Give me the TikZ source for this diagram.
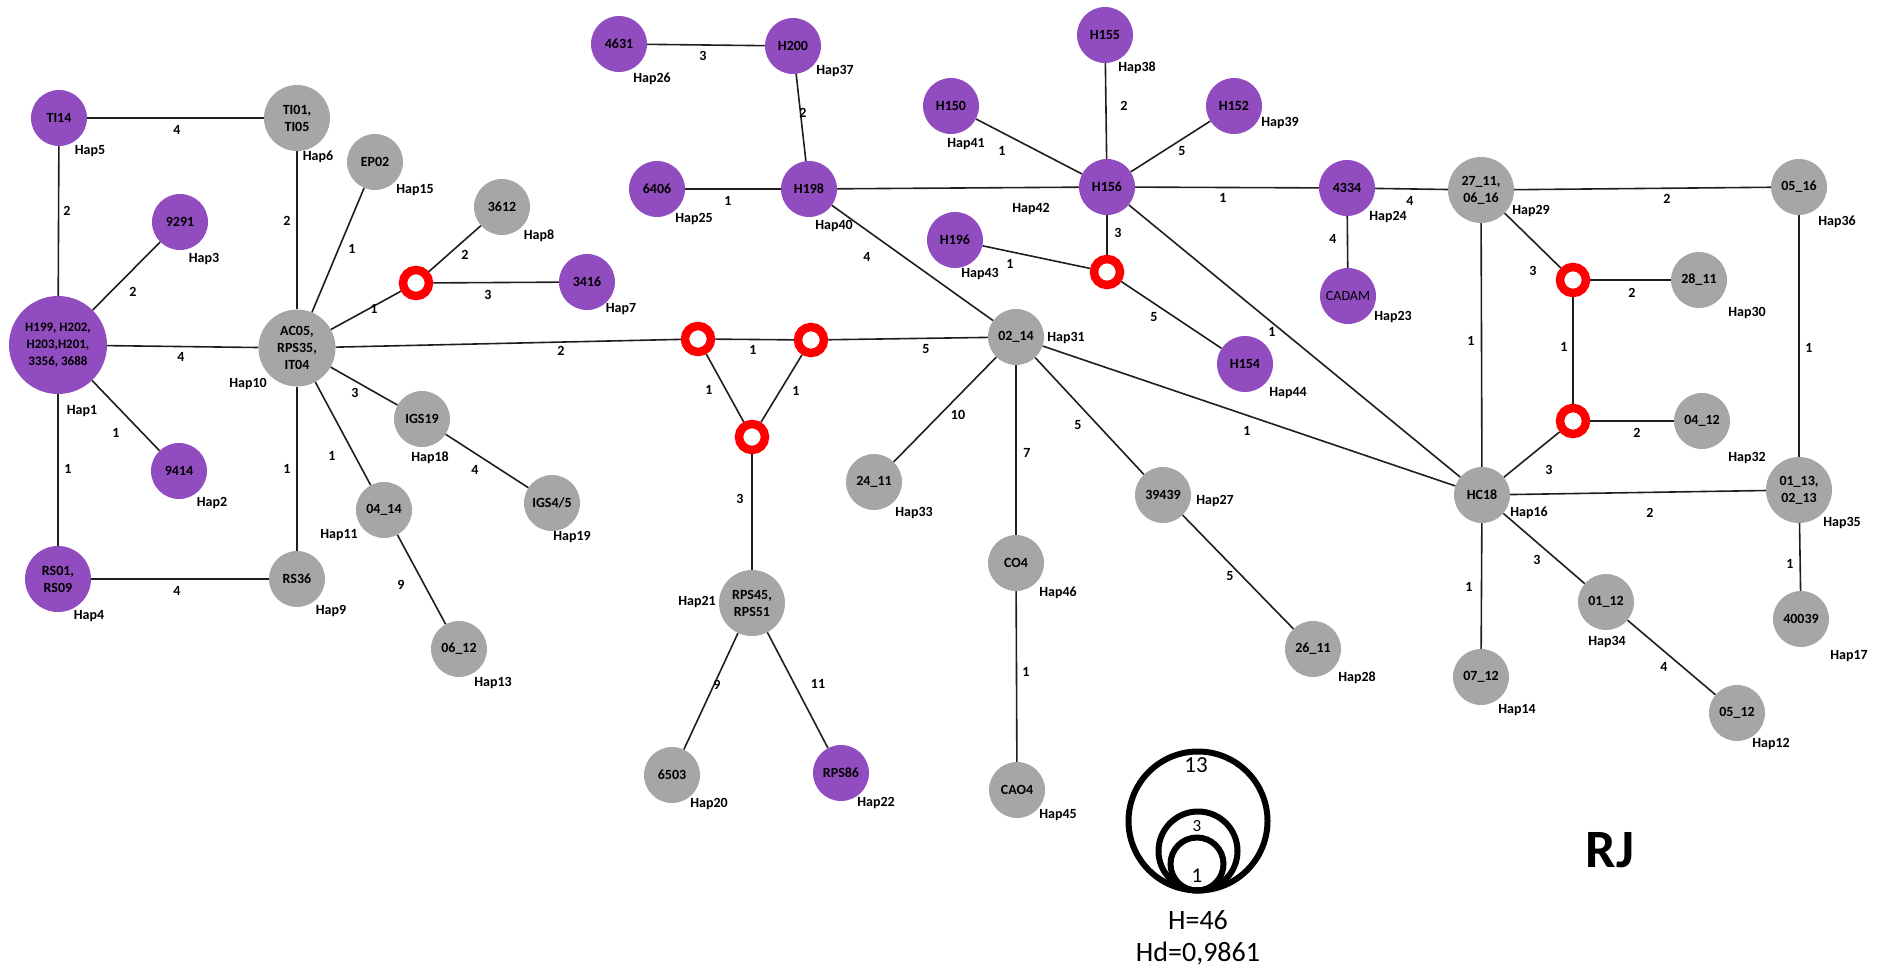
\documentclass[tikz,border=0pt]{standalone}
\usepackage{fontspec}
\setmainfont{Carlito}
\definecolor{hpurple}{RGB}{145,76,191}
\definecolor{hgrey}{RGB}{166,166,166}
\definecolor{hline}{RGB}{30,30,30}
\tikzset{
  hbase/.style={circle, minimum size=56pt, inner sep=0pt, align=center,
    font=\fontsize{14}{17}\selectfont\bfseries},
  hp/.style={hbase, fill=hpurple},
  hg/.style={hbase, fill=hgrey},
  twoline/.style={minimum size=66pt},
  mv/.style={circle, draw=red, line width=8.5pt, minimum size=26pt, inner sep=0pt},
  hl/.style={inner sep=0pt, font=\fontsize{14}{17}\selectfont\bfseries},
  el/.style={inner sep=0pt, font=\fontsize{14}{17}\selectfont\bfseries},
  link/.style={line width=1.6pt, draw=hline},
  ring/.style={circle, draw=black, line width=6pt, inner sep=0pt},
}
\begin{document}
\begin{tikzpicture}[x=1pt, y=-1pt]
\useasboundingbox (0,0) rectangle (1879,968);

% ---- haplotype circles ----
\node[hp, minimum size=98pt, font=\fontsize{13}{17}\selectfont\bfseries] (hap1) at (58,345) {H199, H202,\\H203,H201,\\3356, 3688};
\node[hp] (ti14) at (59,118) {TI14};
\node[hg, twoline] (ti01) at (297,118) {TI01,\\TI05};
\node[hg] (ep02) at (375,162) {EP02};
\node[hp] (n9291) at (180,222) {9291};
\node[hg, minimum size=77pt] (ac05) at (297,348) {AC05,\\RPS35,\\IT04};
\node[hp] (n9414) at (179,471) {9414};
\node[hp, twoline] (rs01) at (58,579) {RS01,\\RS09};
\node[hg] (rs36) at (297,579) {RS36};
\node[hg] (n0414) at (384,510) {04\_14};
\node[hg] (igs19) at (422,419) {IGS19};
\node[hg] (igs45) at (552,503) {IGS4/5};
\node[hg] (n0612) at (459,649) {06\_12};
\node[hg] (n3612) at (502,207) {3612};
\node[hp] (n3416) at (587,282) {3416};
\node[hg, twoline] (rps45) at (752,603) {RPS45,\\RPS51};
\node[hg] (n6503) at (672,775) {6503};
\node[hp] (rps86) at (841,773) {RPS86};
\node[hp] (n4631) at (619,44) {4631};
\node[hp] (h200) at (793,46) {H200};
\node[hp] (n6406) at (657,189) {6406};
\node[hp] (h198) at (809,189) {H198};
\node[hp] (h150) at (951,106) {H150};
\node[hp] (h155) at (1105,35) {H155};
\node[hp] (h152) at (1234,106) {H152};
\node[hp] (h156) at (1107,187) {H156};
\node[hp] (h196) at (955,240) {H196};
\node[hp] (h154) at (1245,364) {H154};
\node[hp] (n4334) at (1347,188) {4334};
\node[hp, font=\fontsize{14}{17}\selectfont] (cadam) at (1348,296) {CADAM};
\node[hg, twoline] (n2711) at (1481,190) {27\_11,\\06\_16};
\node[hg] (n0516) at (1799,187) {05\_16};
\node[hg] (n2811) at (1699,280) {28\_11};
\node[hg] (n0412) at (1702,421) {04\_12};
\node[hg] (hc18) at (1482,495) {HC18};
\node[hg, twoline] (n0113) at (1799,490) {01\_13,\\02\_13};
\node[hg] (n40039) at (1801,619) {40039};
\node[hg] (n0112) at (1606,602) {01\_12};
\node[hg] (n0512) at (1737,713) {05\_12};
\node[hg] (n0712) at (1481,677) {07\_12};
\node[hg] (n0214) at (1016,337) {02\_14};
\node[hg] (n2411) at (874,482) {24\_11};
\node[hg] (n39439) at (1163,495) {39439};
\node[hg] (n2611) at (1313,649) {26\_11};
\node[hg] (co4) at (1016,563) {CO4};
\node[hg] (cao4) at (1017,790) {CAO4};

% ---- median vectors ----
\node[mv] (m1) at (416,283) {};
\node[mv] (m2) at (698,339) {};
\node[mv] (m3) at (811,340) {};
\node[mv] (m4) at (752,437) {};
\node[mv] (m5) at (1107,272) {};
\node[mv] (m6) at (1573,280) {};
\node[mv] (m7) at (1573,421) {};

% ---- haplotype names ----
\foreach \px/\py/\t [count=\i] in {
  82/411/Hap1, 212/503/Hap2, 204/259/Hap3, 89/616/Hap4, 90/151/Hap5,
  318/157/Hap6, 621/309/Hap7, 539/236/Hap8, 331/611/Hap9, 248/384/Hap10,
  339/535/Hap11, 1771/744/Hap12, 493/683/Hap13, 1517/710/Hap14, 415/190/Hap15,
  1529/513/Hap16, 1849/656/Hap17, 430/458/Hap18, 572/537/Hap19, 709/804/Hap20,
  697/602/Hap21, 876/803/Hap22, 1393/317/Hap23, 1388/217/Hap24, 694/219/Hap25,
  652/79/Hap26, 1215/501/Hap27, 1357/678/Hap28, 1531/211/Hap29, 1747/313/Hap30,
  1066/338/Hap31, 1747/458/Hap32, 914/513/Hap33, 1607/642/Hap34, 1842/523/Hap35,
  1837/222/Hap36, 835/71/Hap37, 1137/68/Hap38, 1280/123/Hap39, 834/226/Hap40,
  966/144/Hap41, 1031/209/Hap42, 980/274/Hap43, 1288/393/Hap44, 1058/815/Hap45,
  1058/593/Hap46}
  \node[hl] (name\i) at (\px,\py) {\t};

% ---- links ----
\draw[link] (ti14) -- (ti01);
\draw[link] (ti14) -- (hap1);
\draw[link] (hap1) -- (n9291);
\draw[link] (hap1) -- (ac05);
\draw[link] (hap1) -- (n9414);
\draw[link] (hap1) -- (rs01);
\draw[link] (rs01) -- (rs36);
\draw[link] (ti01) -- (ac05);
\draw[link] (ac05) -- (ep02);
\draw[link] (ac05) -- (m1);
\draw[link] (m1) -- (n3612);
\draw[link] (m1) -- (n3416);
\draw[link] (ac05) -- (m2);
\draw[link] (ac05) -- (igs19);
\draw[link] (igs19) -- (igs45);
\draw[link] (ac05) -- (n0414);
\draw[link] (n0414) -- (n0612);
\draw[link] (ac05) -- (rs36);
\draw[link] (m2) -- (m3);
\draw[link] (m2) -- (m4);
\draw[link] (m3) -- (m4);
\draw[link] (m3) -- (n0214);
\draw[link] (m4) -- (rps45);
\draw[link] (rps45) -- (n6503);
\draw[link] (rps45) -- (rps86);
\draw[link] (n4631) -- (h200);
\draw[link] (h200) -- (h198);
\draw[link] (n6406) -- (h198);
\draw[link] (h198) -- (h156);
\draw[link] (h198) -- (n0214);
\draw[link] (h150) -- (h156);
\draw[link] (h155) -- (h156);
\draw[link] (h152) -- (h156);
\draw[link] (h156) -- (n4334);
\draw[link] (h156) -- (m5);
\draw[link] (h196) -- (m5);
\draw[link] (m5) -- (h154);
\draw[link] (h156) -- (hc18);
\draw[link] (n4334) -- (n2711);
\draw[link] (n4334) -- (cadam);
\draw[link] (n2711) -- (n0516);
\draw[link] (n2711) -- (m6);
\draw[link] (n2711) -- (hc18);
\draw[link] (m6) -- (n2811);
\draw[link] (m6) -- (m7);
\draw[link] (m7) -- (n0412);
\draw[link] (m7) -- (hc18);
\draw[link] (hc18) -- (n0113);
\draw[link] (n0516) -- (n0113);
\draw[link] (n0113) -- (n40039);
\draw[link] (hc18) -- (n0112);
\draw[link] (n0112) -- (n0512);
\draw[link] (hc18) -- (n0712);
\draw[link] (n0214) -- (hc18);
\draw[link] (n0214) -- (n2411);
\draw[link] (n0214) -- (co4);
\draw[link] (n0214) -- (n39439);
\draw[link] (n39439) -- (n2611);
\draw[link] (co4) -- (cao4);

% ---- mutation counts ----
\foreach \px/\py/\t [count=\i] in {
  177/130/4, 67/211/2, 133/292/2, 181/357/4, 116/433/1, 68/469/1, 177/591/4,
  287/221/2, 352/249/1, 374/309/1, 465/255/2, 488/295/3, 561/351/2, 355/393/3,
  475/470/4, 332/456/1, 401/585/9, 287/469/1, 753/350/1, 709/390/1, 796/391/1,
  926/349/5, 740/499/3, 717/685/9, 818/684/11, 703/56/3, 803/113/2, 728/201/1,
  867/257/4, 1002/151/1, 1124/106/2, 1182/151/5, 1223/198/1, 1118/233/3,
  1010/264/1, 1154/317/5, 1272/332/1, 1410/201/4, 1333/239/4, 1667/199/2,
  1533/271/3, 1471/341/1, 1632/293/2, 1564/347/1, 1637/433/2, 1549/470/3,
  1650/513/2, 1809/348/1, 1790/564/1, 1537/560/3, 1664/667/4, 1469/587/1,
  1247/431/1, 958/415/10, 1027/453/7, 1078/425/5, 1230/576/5, 1026/672/1}
  \node[el] (count\i) at (\px,\py) {\t};

% ---- size legend ----
\node[ring, minimum size=139pt] (leg13) at (1198,821) {};
\node[ring, minimum size=79pt] (leg3) at (1198,851) {};
\node[ring, minimum size=53pt] (leg1) at (1197,864) {};
\node[inner sep=0pt, font=\fontsize{23}{25}\selectfont] (t13) at (1196,765) {13};
\node[inner sep=0pt, font=\fontsize{17}{19}\selectfont] (t3) at (1197,826) {3};
\node[inner sep=0pt, font=\fontsize{21}{23}\selectfont] (t1) at (1197,876) {1};
\node[inner sep=0pt, font=\fontsize{28}{30}\selectfont] (hnum) at (1198,920) {H=46};
\node[inner sep=0pt, font=\fontsize{28}{30}\selectfont] (hdiv) at (1198,954) {Hd=0,9861};
\node[inner sep=0pt, font=\fontsize{54}{58}\selectfont\bfseries] (region) at (1610,850) {RJ};
\end{tikzpicture}
\end{document}
